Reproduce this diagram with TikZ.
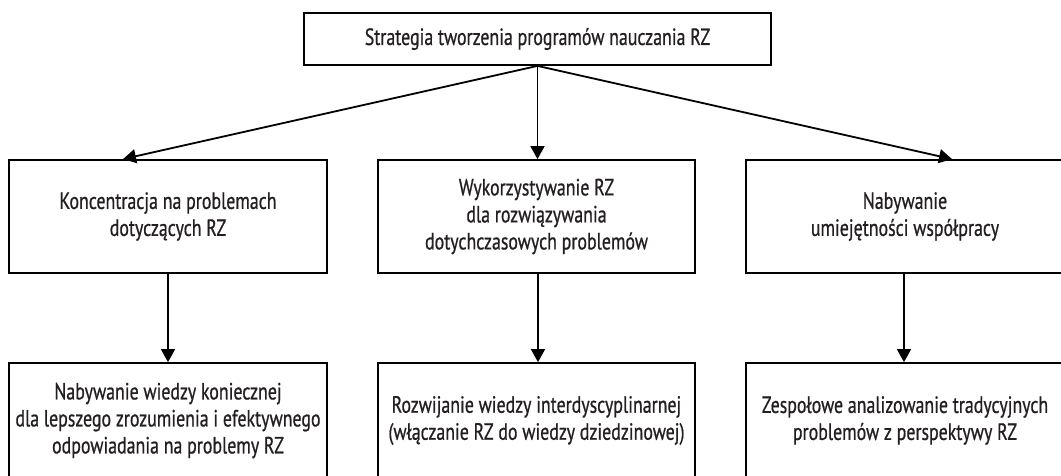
\documentclass[tikz,border=0pt]{standalone}
\usepackage{fontspec}
\setmainfont{PT Sans}[FakeStretch=0.76,FakeBold=0.7]
\usetikzlibrary{arrows.meta}
\definecolor{txt}{HTML}{231F20}
\tikzset{
  box/.style={draw=black, line width=1.8pt, rectangle, inner sep=0pt, align=center,
    text=txt, font=\fontsize{23.5}{27}\selectfont},
  conn/.style={line width=1.8pt, -{Triangle[length=13pt,width=14pt]}},
}
\begin{document}
\begin{tikzpicture}[x=1pt,y=1pt]
\useasboundingbox (0,0) rectangle (1061,475);
\clip (0,0) rectangle (1061,475);
\node[box, minimum width=467pt, minimum height=52pt] (top) at (537.5,436) {Strategia tworzenia programów nauczania RZ};
\node[box, minimum width=318pt, minimum height=113pt] (ml) at (168,258.5) {Koncentracja na problemach\\dotyczących RZ};
\node[box, minimum width=317pt, minimum height=113pt] (mc) at (536.5,258.5) {Wykorzystywanie RZ\\dla rozwiązywania\\dotychczasowych problemów};
\node[box, minimum width=318pt, minimum height=113pt] (mr) at (905,258.5) {Nabywanie\\umiejętności współpracy};
\node[box, minimum width=318pt, minimum height=115pt] (bl) at (168,54.5) {Nabywanie wiedzy koniecznej\\dla lepszego zrozumienia i efektywnego\\odpowiadania na problemy RZ};
\node[box, minimum width=317pt, minimum height=115pt] (bc) at (536.5,54.5) {Rozwijanie wiedzy interdyscyplinarnej\\(włączanie RZ do wiedzy dziedzinowej)};
\node[box, minimum width=318pt, minimum height=115pt] (br) at (905,54.5) {Zespołowe analizowanie tradycyjnych\\problemów z perspektywy RZ};
\draw[conn] (top.south) -- ([xshift=-45pt]ml.north);
\draw[conn] (top.south) -- ([xshift=1pt]mc.north);
\draw[conn] (top.south) -- ([xshift=47pt]mr.north);
\draw[conn] (ml.south) -- (bl.north);
\draw[conn] ([xshift=1.5pt]mc.south) -- ([xshift=1.5pt]bc.north);
\draw[conn] ([xshift=-1pt]mr.south) -- ([xshift=-1pt]br.north);
\end{tikzpicture}
\end{document}
